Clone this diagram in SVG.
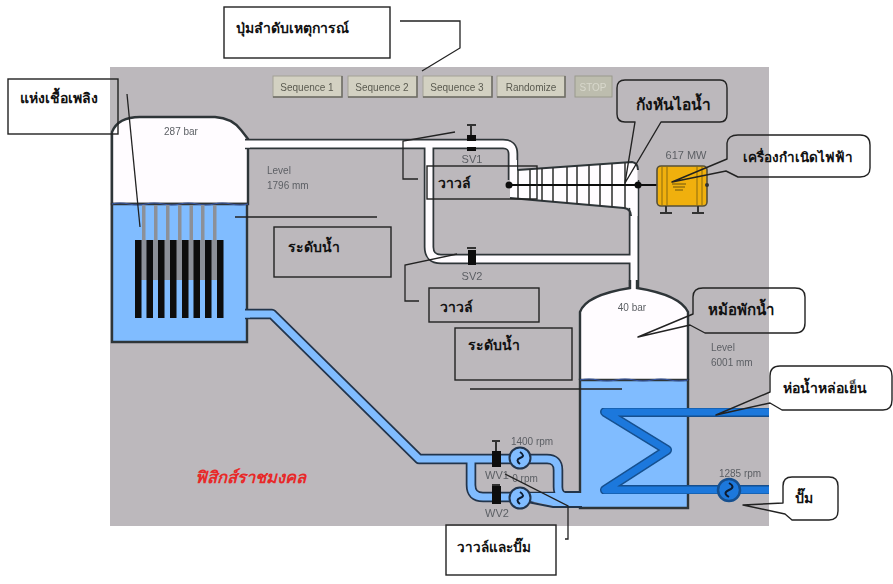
<svg xmlns="http://www.w3.org/2000/svg" width="893" height="584" viewBox="0 0 893 584">
<style>
text{font-family:"Liberation Sans","Noto Sans",sans-serif}
.sm{font-size:10px;fill:#5c5f64}
.c{text-anchor:middle}
.btn{fill:#d3d1c2;stroke:#a3a196;stroke-width:1}
.sh{fill:none;stroke:#6e6c64;stroke-width:1.500}
.bt{font-size:10px;fill:#5a5a50;text-anchor:middle}
.th{font-family:"Noto Sans","Liberation Sans","DejaVu Sans",sans-serif;font-size:14px;font-weight:700;fill:#111}
.box{fill:none;stroke:#222;stroke-width:1.400}
.call{fill:none;stroke:#222;stroke-width:1.400;stroke-linejoin:round}
.lead{fill:none;stroke:#222;stroke-width:1.300}
.oS{fill:none;stroke:#2e3438;stroke-width:10.500;stroke-linejoin:round}
.iS{fill:none;stroke:#fffcff;stroke-width:7;stroke-linejoin:round}
.oW{fill:none;stroke:#23344c;stroke-width:10.500;stroke-linejoin:round}
.iW{fill:none;stroke:#80bcff;stroke-width:7;stroke-linejoin:round}
.oC{fill:none;stroke:#14508f;stroke-width:10;stroke-linejoin:round}
.iC{fill:none;stroke:#1f78dc;stroke-width:7;stroke-linejoin:round}
.ves{stroke:#2e3438;stroke-width:2.400}
.blk{fill:#0a0a0a}
.pump{fill:#80bcff;stroke:#23344c;stroke-width:2}
.rod{fill:#8c9098}
</style>
<defs>
<filter id="soft" x="-5%" y="-5%" width="110%" height="110%"><feGaussianBlur stdDeviation="0.4"/></filter>
<path id="steam" d="M245 144H503Q513 144 513 154V180M429 144V247Q429 259 441 259H634M634 180V298"/>
<path id="wp" d="M245 314H272L419 459H471M471 459V485Q471 497 483 497H560M471 459H547Q558 459 558 470V487Q558 497 568 497"/>
<path id="coil" d="M769 412H605L667 450L605 490H769"/>
</defs>
<rect id="panel" x="110" y="67" width="659" height="459" fill="#bcb8bc"/>

<g id="reactor" filter="url(#soft)">
<path class="ves" fill="#fffcff" d="M112 204V132Q118 117 140 117H215Q232 118 241 130L248 139V204Z"/>
<path class="ves" fill="#80bcff" d="M112 204H247V342H112Z"/>
<path d="M112 204q8 -2 17 0t17 0t17 0t17 0t17 0t17 0t17 0t17 0" fill="none" stroke="#3a5aa8" stroke-width="1.200"/>
<g class="rod"><rect x="142" y="205" width="3.500" height="35"/><rect x="154" y="205" width="3.500" height="35"/><rect x="166" y="205" width="3.500" height="35"/><rect x="178" y="205" width="3.500" height="35"/><rect x="189.500" y="205" width="3.500" height="35"/><rect x="201" y="205" width="3.500" height="35"/><rect x="213" y="205" width="3.500" height="35"/>
<rect x="141" y="240" width="6" height="40"/><rect x="153" y="240" width="6" height="40"/><rect x="164" y="240" width="7" height="40"/><rect x="176" y="240" width="7" height="40"/><rect x="188" y="240" width="6" height="40"/><rect x="200" y="240" width="6" height="40"/><rect x="211" y="240" width="7" height="40"/></g>
<g class="blk"><rect x="135" y="240" width="6.500" height="78"/><rect x="146.500" y="240" width="6.500" height="78"/><rect x="158" y="240" width="6.500" height="78"/><rect x="170" y="240" width="6.500" height="78"/><rect x="182" y="240" width="6.500" height="78"/><rect x="193.500" y="240" width="6.500" height="78"/><rect x="205" y="240" width="6.500" height="78"/><rect x="217" y="240" width="6.500" height="78"/></g>
<text class="sm c" x="181" y="135">287 bar</text>
<text class="sm" x="267" y="174">Level</text>
<text class="sm" x="267" y="189">1796 mm</text>
</g>

<g id="steam-pipes" filter="url(#soft)">
<use href="#steam" class="oS"/>
<use href="#steam" class="iS"/>
<rect x="244" y="141" width="6" height="6.500" fill="#fffcff"/>
</g>

<g id="turbine" filter="url(#soft)">
<path d="M510 160H517V170L632 162Q637.500 163 637.500 170V216H630.500V208L510 198Z" fill="#fffcff"/>
<path d="M517.500 170L632 162Q638 163 638 170M510 198L624 208Q631 209 631 216" fill="none" stroke="#2e3438" stroke-width="2"/>
<path d="M518 170V199M530 169V200M542 168V201M553 168V202M567 167V203M577 166V204M589 165V205M600 165V206M612 164V207M625 163V208" stroke="#2c2c2c" stroke-width="1.500"/>
<path d="M509 185H657" stroke="#111" stroke-width="2"/>
<circle cx="509" cy="185" r="3.500" fill="#111"/>
<circle cx="638" cy="185" r="3.500" fill="#111"/>
</g>

<g id="generator" filter="url(#soft)">
<rect x="657" y="166" width="50" height="40" rx="4" fill="#f0b010" stroke="#55503a" stroke-width="1.600"/>
<path d="M662 166V206M667 166V206M697 166V206M702 166V206" stroke="#8a6a10"/>
<path d="M672 184H686M673 187H685M675 190H683" stroke="#6a5510"/>
<path d="M666 206V213M660 213H672M698 206V213M692 213H704" stroke="#333" stroke-width="2"/>
<circle cx="707" cy="185" r="2" fill="#333"/>
<text class="sm c" x="686" y="159" style="font-size:11px">617 MW</text>
</g>

<g id="valve-sv1" filter="url(#soft)"><path d="M467 125H476M471 125V136" stroke="#333" stroke-width="2"/><rect class="blk" x="467" y="135" width="9" height="6"/><rect class="blk" x="467" y="147" width="9" height="4"/><text class="sm c" x="472" y="163" style="font-size:11px">SV1</text></g>
<g id="valve-sv2" filter="url(#soft)"><path d="M467 248H476" stroke="#333" stroke-width="2"/><rect class="blk" x="468" y="250" width="8" height="15"/><text class="sm c" x="472" y="280" style="font-size:11px">SV2</text></g>

<g id="drum" filter="url(#soft)">
<path fill="#fffcff" d="M580 380V312Q586 295 630 288V280H637V288Q680 295 688 312V380Z"/>
<path class="ves" fill="none" d="M580 380V312Q586 295 630 288V280M637 280V288Q680 295 688 312V380"/>
<path class="ves" fill="#80bcff" d="M580 380H688V508H580Z"/>
<path d="M580 380q9 -2 18 0t18 0t18 0t18 0t18 0t18 0" fill="none" stroke="#3a5aa8" stroke-width="1.200"/>
<text class="sm c" x="632" y="311">40 bar</text>
<text class="sm" x="711" y="351">Level</text>
<text class="sm" x="711" y="366">6001 mm</text>
</g>

<g id="water-pipes" filter="url(#soft)">
<use href="#wp" class="oW"/>
<use href="#wp" class="iW"/>
<path d="M530 493H582V506L553 506L530 501Z" fill="#80bcff"/>
<path d="M565 492H580M530 502.500L553 507H582" fill="none" stroke="#23344c" stroke-width="2"/>
<rect x="243" y="311" width="7" height="6.500" fill="#80bcff"/>
</g>

<g id="condenser" filter="url(#soft)">
<use href="#coil" class="oC"/>
<use href="#coil" class="iC"/>
</g>

<g id="pump-main" filter="url(#soft)"><circle cx="729" cy="490" r="11" fill="#1f78dc" stroke="#14508f" stroke-width="2.500"/><path d="M729 483q7 4 0 7q-7 3 0 7" fill="none" stroke="#0c1c30" stroke-width="2"/><text class="sm c" x="740" y="477">1285 rpm</text></g>
<g id="pump-1" filter="url(#soft)"><circle class="pump" cx="520" cy="458" r="10.500"/><path d="M520 452q6 4 0 6q-5 2 0 6" fill="none" stroke="#0c1c30" stroke-width="2"/><text class="sm c" x="532" y="445">1400 rpm</text></g>
<g id="pump-2" filter="url(#soft)"><circle class="pump" cx="520" cy="498" r="10.500"/><path d="M520 492q6 4 0 6q-5 2 0 6" fill="none" stroke="#0c1c30" stroke-width="2"/><text class="sm c" x="525" y="482">0 rpm</text></g>
<g id="valve-wv1" filter="url(#soft)"><path d="M492 441H500M496 441V452" stroke="#333" stroke-width="2"/><rect class="blk" x="492" y="451" width="9" height="16"/><text class="sm c" x="497" y="479" style="font-size:11px">WV1</text></g>
<g id="valve-wv2" filter="url(#soft)"><path d="M492 485H500" stroke="#333" stroke-width="2"/><rect class="blk" x="492" y="486" width="9" height="18"/><text class="sm c" x="497" y="517" style="font-size:11px">WV2</text></g>

<g id="buttons" filter="url(#soft)">
<rect class="btn" x="273" y="76" width="69" height="21"/><path class="sh" d="M273 97H342V76"/><text class="bt" x="307" y="91">Sequence 1</text>
<rect class="btn" x="348" y="76" width="69" height="21"/><path class="sh" d="M348 97H417V76"/><text class="bt" x="382" y="91">Sequence 2</text>
<rect class="btn" x="423" y="76" width="69" height="21"/><path class="sh" d="M423 97H492V76"/><text class="bt" x="457" y="91">Sequence 3</text>
<rect class="btn" x="497" y="76" width="68" height="21"/><path class="sh" d="M497 97H565V76"/><text class="bt" x="531" y="91">Randomize</text>
<rect x="575" y="76" width="37" height="21" fill="#bdbdae" stroke="#9a9a8e"/><text x="593" y="91" font-size="10" text-anchor="middle" fill="#d8d8cc">STOP</text>
</g>

<text id="brand" x="195" y="483" font-family="Noto Sans,Liberation Sans,sans-serif" font-size="16.500" font-style="italic" font-weight="700" fill="#e82828">ฟิสิกส์ราชมงคล</text>

<g id="connectors">
<path class="lead" d="M400 21H460V48L422 71"/>
<path class="lead" d="M127 94L140 227"/>
<path class="lead" d="M235 217H377"/>
<path class="lead" d="M455 132L403 141V179H418"/>
<path class="lead" d="M457 254L405 265V301H419"/>
<path class="lead" d="M470 389H622"/>
<path class="lead" d="M505 474L568 506V539H565"/>
</g>

<g id="label-fuel"><rect class="box" x="8" y="79" width="110" height="55"/><text class="th" x="20" y="103">แห่งเชื้อเพลิง</text></g>
<g id="label-seq"><rect class="box" x="224" y="7" width="166" height="51"/><text class="th" x="236" y="33">ปุ่มลำดับเหตุการณ์</text></g>
<g id="label-level1"><rect class="box" x="274" y="227" width="117" height="50"/><text class="th" x="288" y="252">ระดับน้ำ</text></g>
<g id="label-valve1"><rect class="box" x="427" y="166" width="110" height="33"/><text class="th" x="438" y="188">วาวล์</text></g>
<g id="label-valve2"><rect class="box" x="429" y="288" width="110" height="34"/><text class="th" x="440" y="312">วาวล์</text></g>
<g id="label-level2"><rect class="box" x="455" y="328" width="117" height="52"/><text class="th" x="468" y="350">ระดับน้ำ</text></g>
<g id="label-valvepump"><rect class="box" x="446" y="525" width="110" height="50"/><text class="th" x="457" y="552" style="font-size:13.500px">วาวล์และปั๊ม</text></g>
<g id="label-turbine"><path class="call" d="M635 122H625Q617 122 617 114V88Q617 80 625 80H720Q727 80 727 88V114Q727 122 720 122H661L625 183Z"/><text class="th" x="636" y="110" style="font-size:15.500px">กังหันไอน้ำ</text></g>
<g id="label-generator"><path class="call" d="M672 182L727 159V143Q728 135 738 135H860Q870 135 870 145V168Q870 177 860 177H738L726 171L672 182Z"/><text class="th" x="743" y="162" style="font-size:13.500px">เครื่องกำเนิดไฟฟ้า</text></g>
<g id="label-drum"><path class="call" d="M638 337L693 314V297Q693 288 703 288H795Q805 288 805 297V323Q805 333 795 333H705L690 325Z"/><text class="th" x="708" y="315" style="font-size:15px">หม้อพักน้ำ</text></g>
<g id="label-cooling"><path class="call" d="M716 415L770 392V376Q770 366 780 366H883Q892 366 892 376V400Q892 410 883 410H782L770 403L716 415Z"/><text class="th" x="783" y="393">ห่อน้ำหล่อเย็น</text></g>
<g id="label-pump"><path class="call" d="M743 505L783 503V486Q783 477 792 477H829Q838 477 838 486V511Q838 520 829 520H792L785 514Z"/><text class="th" x="795" y="503">ปั๊ม</text></g>
</svg>
